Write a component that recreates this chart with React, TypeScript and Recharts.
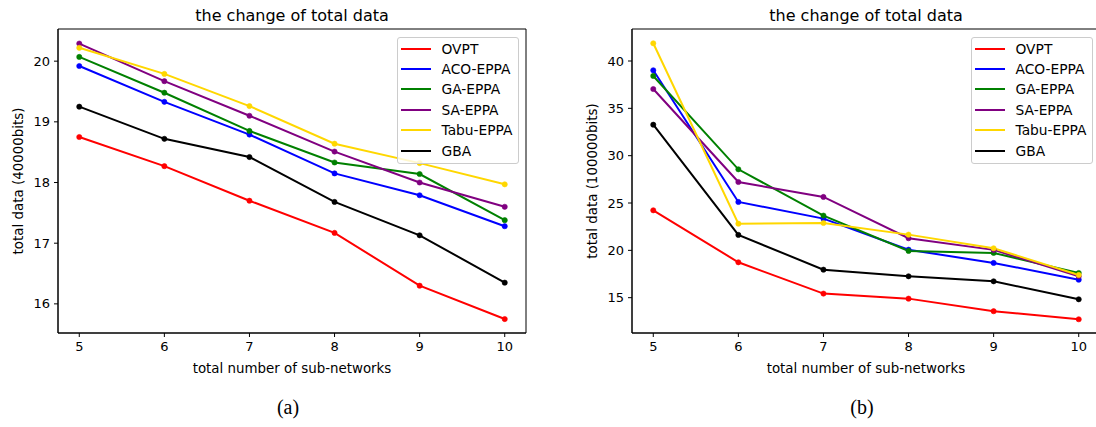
import React from 'react';
import { LineChart, Line, XAxis, YAxis, ReferenceArea, Legend } from 'recharts';

// number of sub-networks
const subNetworks = [5, 6, 7, 8, 9, 10];

const seriesNames = ['OVPT', 'ACO-EPPA', 'GA-EPPA', 'SA-EPPA', 'Tabu-EPPA', 'GBA'];
const seriesColors = ['#ff0000', '#0000ff', '#008000', '#800080', '#ffd700', '#000000'];

// (a) total data, 40000bits
const ovptA = [18.75, 18.27, 17.7, 17.17, 16.3, 15.75];
const acoA = [19.92, 19.33, 18.79, 18.15, 17.79, 17.28];
const gaA = [20.07, 19.48, 18.85, 18.33, 18.14, 17.38];
const saA = [20.29, 19.67, 19.1, 18.51, 18.0, 17.6];
const tabuA = [20.22, 19.79, 19.26, 18.64, 18.32, 17.97];
const gbaA = [19.25, 18.72, 18.42, 17.68, 17.13, 16.35];

// (b) total data, 100000bits
const ovptB = [24.23, 18.74, 15.43, 14.9, 13.57, 12.72];
const acoB = [39.02, 25.11, 23.35, 20.07, 18.67, 16.9];
const gaB = [38.42, 28.56, 23.67, 19.94, 19.73, 17.61];
const saB = [37.04, 27.22, 25.64, 21.28, 20.05, 17.26];
const tabuB = [41.87, 22.82, 22.89, 21.66, 20.22, 17.4];
const gbaB = [33.27, 21.63, 17.96, 17.26, 16.73, 14.83];

const ticksA = [16, 17, 18, 19, 20];
const ticksB = [15, 20, 25, 30, 35, 40];

const FONT = '"DejaVu Sans", Verdana, sans-serif';
const SERIF = '"Liberation Serif", "Times New Roman", serif';

const buildRows = (cols: number[][]) =>
  subNetworks.map((x, i) => {
    const row: Record<string, number> = { x };
    seriesNames.forEach((name, s) => {
      row[name] = cols[s][i];
    });
    return row;
  });

const dataA = buildRows([ovptA, acoA, gaA, saA, tabuA, gbaA]);
const dataB = buildRows([ovptB, acoB, gaB, saB, tabuB, gbaB]);

const LegendBox = () => (
  <div
    style={{
      boxSizing: 'border-box',
      width: 122,
      height: 127,
      border: '1px solid #cccccc',
      borderRadius: 3,
      background: 'rgba(255,255,255,0.8)',
      paddingTop: 1,
      fontFamily: FONT,
      fontSize: 13.8,
      color: '#000',
    }}
  >
    {seriesNames.map((name, i) => (
      <div key={name} style={{ height: 20.4, display: 'flex', alignItems: 'center' }}>
        <span
          style={{
            display: 'inline-block',
            marginLeft: 3,
            width: 30,
            height: 2,
            background: seriesColors[i],
          }}
        />
        <span style={{ marginLeft: 11, whiteSpace: 'nowrap' }}>{name}</span>
      </div>
    ))}
  </div>
);

interface PanelProps {
  left: number;
  width: number;
  yAxisWidth: number;
  rightMargin: number;
  data: Record<string, number>[];
  yDomain: [number, number];
  yTicks: number[];
  legendLeft: number;
}

const Panel: React.FC<PanelProps> = ({ left, width, yAxisWidth, rightMargin, data, yDomain, yTicks, legendLeft }) => (
  <div style={{ position: 'absolute', left, top: 0 }}>
    <LineChart width={width} height={427} data={data} margin={{ top: 29, right: rightMargin, bottom: 64, left: 0 }}>
      <XAxis
        dataKey="x"
        type="number"
        domain={[4.75, 10.25]}
        ticks={subNetworks}
        allowDataOverflow
        height={30}
        tickSize={4}
        tickMargin={5}
        stroke="#000"
        tick={{ fill: '#000', fontSize: 13, fontFamily: FONT }}
      />
      <YAxis
        type="number"
        domain={yDomain}
        ticks={yTicks}
        allowDataOverflow
        width={yAxisWidth}
        tickSize={4}
        tickMargin={4}
        stroke="#000"
        tick={{ fill: '#000', fontSize: 13, fontFamily: FONT }}
      />
      <ReferenceArea
        x1={4.75}
        x2={10.25}
        y1={yDomain[0]}
        y2={yDomain[1]}
        fill="none"
        stroke="#000"
        strokeWidth={1}
        fillOpacity={0}
      />
      {seriesNames.map((name, i) => (
        <Line
          key={name}
          dataKey={name}
          type="linear"
          stroke={seriesColors[i]}
          strokeWidth={2}
          dot={{ r: 2.6, fill: seriesColors[i], stroke: seriesColors[i], strokeWidth: 0.6 }}
          isAnimationActive={false}
        />
      ))}
      <Legend
        layout="vertical"
        align="center"
        verticalAlign="middle"
        content={() => <LegendBox />}
        wrapperStyle={{ left: legendLeft, top: 36.5, width: 122, height: 127 }}
      />
    </LineChart>
  </div>
);

export default function App() {
  return (
    <div
      style={{
        position: 'fixed',
        left: 0,
        top: 0,
        width: 1096,
        height: 427,
        overflow: 'hidden',
        background: '#fff',
      }}
    >
      <Panel
        left={0}
        width={548}
        yAxisWidth={58}
        rightMargin={22}
        data={dataA}
        yDomain={[15.52, 20.53]}
        yTicks={ticksA}
        legendLeft={396.5}
      />
      <Panel
        left={548}
        width={552}
        yAxisWidth={84}
        rightMargin={0}
        data={dataB}
        yDomain={[11.27, 43.38]}
        yTicks={ticksB}
        legendLeft={422.5}
      />
      <svg
        width={1096}
        height={427}
        style={{ position: 'absolute', left: 0, top: 0, pointerEvents: 'none' }}
      >
        <g fontFamily={FONT} fill="#000">
          <text x={292} y={21} fontSize={16} textAnchor="middle">the change of total data</text>
          <text x={866} y={21} fontSize={16} textAnchor="middle">the change of total data</text>
          <text x={292} y={373} fontSize={13.4} textAnchor="middle">total number of sub-networks</text>
          <text x={866} y={373} fontSize={13.4} textAnchor="middle">total number of sub-networks</text>
          <text transform="translate(23,181) rotate(-90)" fontSize={13.4} textAnchor="middle">total data (40000bits)</text>
          <text transform="translate(596.5,181) rotate(-90)" fontSize={13.4} textAnchor="middle">total data (100000bits)</text>
        </g>
        <g fontFamily={SERIF} fill="#000" fontSize={20}>
          <text x={288} y={414} textAnchor="middle">(a)</text>
          <text x={862} y={414} textAnchor="middle">(b)</text>
        </g>
      </svg>
    </div>
  );
}
